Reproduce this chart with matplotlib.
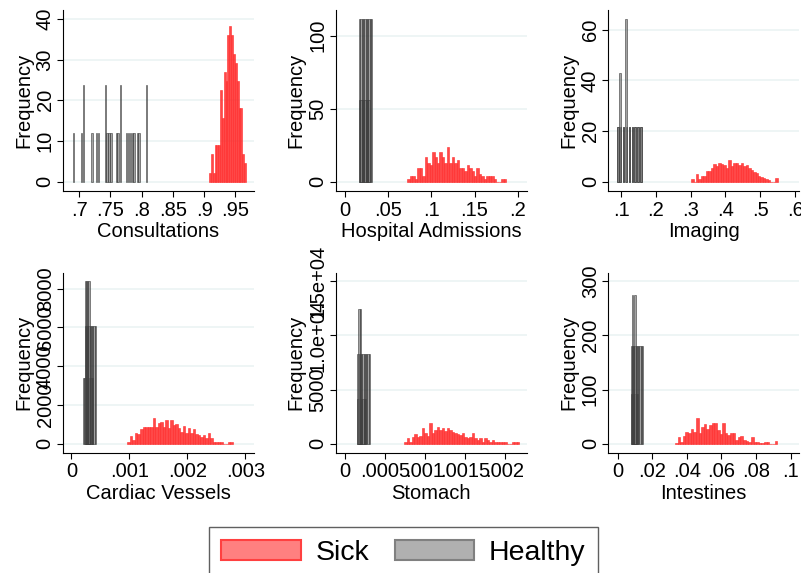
import numpy as np
import matplotlib
matplotlib.use("Agg")
import matplotlib.pyplot as plt
from matplotlib.patches import Patch

plt.rcParams["font.family"] = ["Liberation Sans", "DejaVu Sans"]

panel_names = ["Consultations", "Hospital Admissions", "Imaging",
               "Cardiac Vessels", "Stomach", "Intestines"]

# sick: first bin edge, bin width, frequency of each bin
cons_sick_start = 0.9077
cons_sick_width = 0.002955
cons_sick_freq = [2.25, 6.75, 2.25, 9, 9, 9, 22.5, 15.75, 27, 24.75,
                  36, 38.25, 36, 31.5, 29.25, 24.75, 18, 18, 6.75, 4.5]

hosp_sick_start = 0.0722
hosp_sick_width = 0.002858
hosp_sick_freq = [1.85, 3.7, 3.7, 1.85, 9.25, 9.25, 3.7, 16.7, 13, 11.1,
                  20.4, 16.7, 13, 20.4, 16.7, 13, 24, 13, 16.7, 13,
                  14.8, 9.25, 9.25, 7.4, 11.1, 9.25, 7.4, 3.7, 9.25, 5.55,
                  3.7, 1.85, 3.7, 3.7, 3.7, 1.85, 0, 0, 1.85, 1.85]

imag_sick_start = 0.3011
imag_sick_width = 0.00712
imag_sick_freq = [1.07, 0, 3.2, 1.07, 2.1, 2.1, 4.3, 4.3, 5.3, 6.8,
                  6.0, 7.5, 7.0, 6.6, 5.3, 8.5, 6.0, 7.2, 7.2, 6.6,
                  7.2, 6.0, 6.6, 5.3, 4.6, 4.0, 3.3, 2.2, 2.0, 1.3,
                  1.07, 0.6, 0, 0, 1.3]

card_sick_start = 0.000966
card_sick_width = 0.0000433
card_sick_freq = [100, 400, 190, 530, 500, 740, 880, 880, 880, 840,
                  1310, 880, 1080, 1140, 880, 1220, 790, 1220, 960, 1000,
                  830, 620, 910, 570, 790, 530, 740, 500, 450, 360,
                  450, 310, 530, 310, 100, 100, 100, 100, 0, 0, 100, 100]

stom_sick_start = 0.000741
stom_sick_width = 0.00003126
stom_sick_freq = [185, 490, 185, 650, 890, 650, 710, 1415, 950, 710,
                  1875, 950, 1260, 1500, 1260, 1415, 1200, 1415, 1260, 1110,
                  1015, 890, 800, 950, 650, 490, 650, 950, 490, 340,
                  490, 185, 490, 340, 185, 340, 185, 185, 185, 185,
                  185, 0, 0, 185, 185, 185]

inte_sick_start = 0.0331
inte_sick_width = 0.001516
inte_sick_freq = [2, 11.7, 3.7, 14, 21, 19, 28, 21, 47, 19,
                  31, 36, 28, 34, 39, 37.5, 26, 17, 37.5, 20,
                  16, 19, 20, 7, 13, 15, 7, 5.5, 3.7, 11.7,
                  3.7, 3.7, 2, 2, 3.7, 3.7, 0, 0, 5.5]

# healthy: left edge of each bar (bars overlap), bar width, frequency
cons_healthy_edges = [0.6899, 0.7029, 0.7059, 0.7199, 0.7269, 0.7299, 0.7409,
                      0.7439, 0.7469, 0.7499, 0.7589, 0.7609, 0.7649, 0.7749,
                      0.7779, 0.7809, 0.7839, 0.7869, 0.7919, 0.7949, 0.8064]
cons_healthy_width = 0.0024
cons_healthy_freq = [11.9, 11.9, 23.8, 11.9, 11.9, 11.9, 23.8,
                     11.9, 11.9, 11.9, 11.9, 11.9, 23.8, 11.9,
                     11.9, 11.9, 11.9, 11.9, 11.9, 11.9, 23.8]

hosp_healthy_edges = [0.0162, 0.01775, 0.0193, 0.02085, 0.0224, 0.02395, 0.0255,
                      0.02705, 0.0286, 0.03015,
                      0.0162, 0.01775, 0.0193, 0.02085, 0.0224, 0.02395, 0.0255,
                      0.02705]
hosp_healthy_width = 0.00155
hosp_healthy_freq = [111.4, 111.4, 111.4, 111.4, 111.4, 111.4, 111.4,
                     111.4, 111.4, 111.4,
                     56, 56, 56, 56, 56, 56, 56, 56]

imag_healthy_edges = [0.0885, 0.0968, 0.1052, 0.1135, 0.1218, 0.1302, 0.1385,
                      0.1469, 0.1552,
                      0.0885, 0.0955, 0.1052, 0.1125, 0.1218, 0.1302, 0.1385,
                      0.1469, 0.1552]
imag_healthy_width = 0.0043
imag_healthy_freq = [21.4, 21.4, 21.4, 21.4, 21.4, 21.4, 21.4, 21.4, 21.4,
                     21.4, 43, 21.4, 64.2, 21.4, 21.4, 21.4, 21.4, 21.4]

card_healthy_edges = [0.000200, 0.0002215, 0.000243, 0.0002645, 0.000286,
                      0.0003075, 0.000329, 0.0003505,
                      0.000229, 0.0002505, 0.000272, 0.0002935, 0.000315,
                      0.0003365, 0.000358, 0.0003795, 0.000401,
                      0.000229, 0.0002505, 0.000272, 0.0002935]
card_healthy_width = 0.0000215
card_healthy_freq = [3400, 3400, 3400, 3400, 3400, 3400, 3400, 3400,
                     6100, 6100, 6100, 6100, 6100, 6100, 6100, 6100, 6100,
                     8400, 8400, 8400, 8400]

stom_healthy_edges = [0.000154, 0.0001696, 0.0001852, 0.0002008, 0.0002164,
                      0.000232, 0.0002476,
                      0.000154, 0.0001696, 0.0001852, 0.0002008, 0.0002164,
                      0.000232, 0.0002476, 0.0002632, 0.0002788, 0.0002944,
                      0.000166, 0.000189]
stom_healthy_width = 0.0000156
stom_healthy_freq = [4150, 4150, 4150, 4150, 4150, 4150, 4150,
                     8250, 8250, 8250, 8250, 8250, 8250, 8250, 8250, 8250, 8250,
                     12400, 12400]

inte_healthy_edges = [0.0075, 0.00822, 0.00894, 0.00966, 0.01038, 0.0111,
                      0.0075, 0.00822, 0.00894, 0.00966, 0.01038, 0.0111,
                      0.01182, 0.01254, 0.01326, 0.01398,
                      0.0080, 0.0096]
inte_healthy_width = 0.00072
inte_healthy_freq = [91, 91, 91, 91, 91, 91,
                     181, 181, 181, 181, 181, 181, 181, 181, 181, 181,
                     274, 274]

# ticks
cons_xticks = [0.7, 0.75, 0.8, 0.85, 0.9, 0.95]
hosp_xticks = [0, 0.05, 0.1, 0.15, 0.2]
imag_xticks = [0.1, 0.2, 0.3, 0.4, 0.5, 0.6]
card_xticks = [0, 0.001, 0.002, 0.003]
stom_xticks = [0, 0.0005, 0.001, 0.0015, 0.002]
inte_xticks = [0, 0.02, 0.04, 0.06, 0.08, 0.1]

cons_yticks = [0, 10, 20, 30, 40]
hosp_yticks = [0, 50, 100]
imag_yticks = [0, 20, 40, 60]
card_yticks = [0, 2000, 4000, 6000, 8000]
stom_yticks = [0, 5000, 10000, 15000]
stom_ylabels = ["0", "5000", "1.0e+04", "1.5e+04"]
inte_yticks = [0, 100, 200, 300]


def stata_num(v):
    s = "{:g}".format(v)
    if s.startswith("0."):
        s = s[1:]
    return s


sick = [(cons_sick_start, cons_sick_width, cons_sick_freq),
        (hosp_sick_start, hosp_sick_width, hosp_sick_freq),
        (imag_sick_start, imag_sick_width, imag_sick_freq),
        (card_sick_start, card_sick_width, card_sick_freq),
        (stom_sick_start, stom_sick_width, stom_sick_freq),
        (inte_sick_start, inte_sick_width, inte_sick_freq)]
healthy = [(cons_healthy_edges, cons_healthy_width, cons_healthy_freq),
           (hosp_healthy_edges, hosp_healthy_width, hosp_healthy_freq),
           (imag_healthy_edges, imag_healthy_width, imag_healthy_freq),
           (card_healthy_edges, card_healthy_width, card_healthy_freq),
           (stom_healthy_edges, stom_healthy_width, stom_healthy_freq),
           (inte_healthy_edges, inte_healthy_width, inte_healthy_freq)]
xticks = [cons_xticks, hosp_xticks, imag_xticks, card_xticks, stom_xticks, inte_xticks]
yticks = [cons_yticks, hosp_yticks, imag_yticks, card_yticks, stom_yticks, inte_yticks]
ylabels = [None, None, None, None, stom_ylabels, None]

# axis ranges of each plot region (pixel layout of the original)
xlims = [(0.6744, 0.9796), (-0.0108, 0.2104), (0.0635, 0.612),
         (-0.000145, 0.003148), (-0.000116, 0.00227), (-0.00543, 0.105)]
ylims = [(-2.29, 42.2), (-6.4, 117.6), (-3.7, 67.8),
         (-464, 8826), (-830, 15775), (-16.6, 315.5)]

W, H = 801, 573
fig = plt.figure(figsize=(W / 100, H / 100), dpi=100)
lefts = [63, 335.7, 608.3]
tops = [10, 272.7]
pw = 191
ph = [181, 180]

red_face = (1.0, 0.1, 0.1, 0.8)
red_edge = (1.0, 0.2, 0.2, 0.85)
grey_face = (0.4, 0.4, 0.4, 0.6)
grey_edge = (0.22, 0.22, 0.22, 0.65)

for i in range(6):
    r, c = divmod(i, 3)
    ax = fig.add_axes([lefts[c] / W, 1 - (tops[r] + ph[r]) / H, pw / W, ph[r] / H])
    ax.set_axisbelow(True)
    ax.yaxis.grid(True, color="#EAF2F3", linewidth=1.1)

    start, width, freq = sick[i]
    edges = start + width * np.arange(len(freq))
    ax.bar(edges, freq, width=width, align="edge", color=red_face,
           edgecolor=red_edge, linewidth=0.5)

    h_edges, h_width, h_freq = healthy[i]
    ax.bar(h_edges, h_freq, width=h_width, align="edge", color=grey_face,
           edgecolor=grey_edge, linewidth=0.6)

    ax.set_xlim(*xlims[i])
    ax.set_ylim(*ylims[i])
    ax.set_xticks(xticks[i])
    ax.set_xticklabels([stata_num(v) for v in xticks[i]])
    ax.set_yticks(yticks[i])
    labs = ylabels[i] if ylabels[i] is not None else [stata_num(v) for v in yticks[i]]
    ax.set_yticklabels(labs, rotation=90, va="center")
    ax.tick_params(axis="both", labelsize=14.5, length=4, width=0.8, pad=2, color="black")
    ax.tick_params(axis="x", pad=3)
    for side in ["top", "right"]:
        ax.spines[side].set_visible(False)
    for side in ["left", "bottom"]:
        ax.spines[side].set_linewidth(0.8)
    ax.set_xlabel(panel_names[i], fontsize=14.5, labelpad=2)
    ax.set_ylabel("Frequency", fontsize=14.5, labelpad=2)

handles = [Patch(facecolor="#FF8080", edgecolor="#FF4040", linewidth=1.5, label="Sick"),
           Patch(facecolor="#B0B0B0", edgecolor="#808080", linewidth=1.5, label="Healthy")]
leg = fig.legend(handles=handles, loc="upper center", bbox_to_anchor=(403.3 / W, 1 - 527.3 / H),
                 ncol=2, fontsize=20.5, frameon=True, fancybox=False, edgecolor="#606060",
                 framealpha=1, handlelength=2.8, handleheight=0.7, handletextpad=0.5,
                 columnspacing=0.9, borderpad=0.45, borderaxespad=0)
leg.get_frame().set_linewidth(1)

fig.savefig("out.png", dpi=100)
